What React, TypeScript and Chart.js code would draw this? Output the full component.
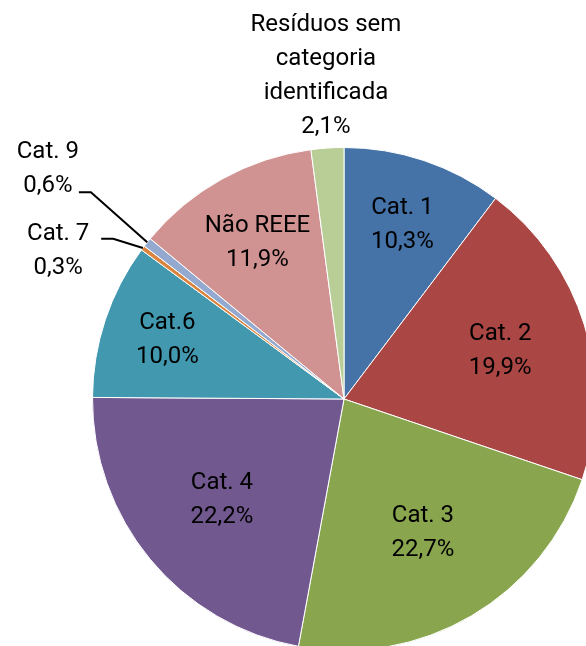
import React, { useEffect, useRef } from "react";
import { Chart, registerables } from "chart.js";

Chart.register(...registerables);

const categories = [
  "Cat. 1",
  "Cat. 2",
  "Cat. 3",
  "Cat. 4",
  "Cat.6",
  "Cat. 7",
  "Cat. 9",
  "Não REEE",
  "Resíduos sem categoria identificada",
];
const values = [10.3, 19.9, 22.7, 22.2, 10.0, 0.3, 0.6, 11.9, 2.1];
const labelLines = [
  ["Cat. 1"],
  ["Cat. 2"],
  ["Cat. 3"],
  ["Cat. 4"],
  ["Cat.6"],
  ["Cat. 7"],
  ["Cat. 9"],
  ["Não REEE"],
  ["Resíduos sem", "categoria", "identificada"],
];
const colors = [
  "#4572A7",
  "#AA4643",
  "#89A54E",
  "#71588F",
  "#4198AF",
  "#DB843D",
  "#93A9CF",
  "#D19392",
  "#B9CD96",
];

// label placement: radius fraction, optional absolute angle (deg from top, clockwise), leader start offset
const placement: { r: number; angle?: number; leader?: [number, number] }[] = [
  { r: 0.73 },
  { r: 0.65 },
  { r: 0.62 },
  { r: 0.63 },
  { r: 0.74 },
  { r: 1.28, angle: 297.4, leader: [43, -12] },
  { r: 1.49, angle: 307.8, leader: [31, 23] },
  { r: 0.71 },
  { r: 1.285, angle: 356.8 },
];

const fmt = (v: number) => v.toFixed(1).replace(".", ",") + "%";

const labelPlugin = {
  id: "pieLabels",
  afterDatasetsDraw(chart: any) {
    const ctx = chart.ctx;
    const meta = chart.getDatasetMeta(0);
    ctx.save();
    ctx.font = '24px Roboto, "Open Sans", sans-serif';
    ctx.fillStyle = "#000";
    ctx.textAlign = "center";
    ctx.textBaseline = "middle";
    const lh = 34;
    meta.data.forEach((arc: any, i: number) => {
      const p = placement[i];
      const R = arc.outerRadius;
      const mid = (arc.startAngle + arc.endAngle) / 2;
      const ang = p.angle !== undefined ? (p.angle * Math.PI) / 180 - Math.PI / 2 : mid;
      const cx = arc.x + Math.cos(ang) * R * p.r;
      const cy = arc.y + Math.sin(ang) * R * p.r;
      const lines = [...labelLines[i], fmt(values[i])];
      const top = cy - ((lines.length - 1) * lh) / 2;
      lines.forEach((t, k) => ctx.fillText(t, cx, top + k * lh));
      if (p.leader) {
        const sx = cx + p.leader[0];
        const sy = cy + p.leader[1];
        const ex = arc.x + Math.cos(mid) * R;
        const ey = arc.y + Math.sin(mid) * R;
        ctx.beginPath();
        ctx.strokeStyle = "#000";
        ctx.lineWidth = 2;
        ctx.moveTo(sx, sy);
        ctx.lineTo(sx + 12, sy);
        ctx.lineTo(ex, ey);
        ctx.stroke();
      }
    });
    ctx.restore();
  },
};

export default function App() {
  const ref = useRef<HTMLCanvasElement | null>(null);
  useEffect(() => {
    if (!ref.current) return;
    const chart = new Chart(ref.current, {
      type: "pie",
      data: {
        labels: categories,
        datasets: [
          {
            data: values,
            backgroundColor: colors,
            borderColor: "#ffffff",
            borderWidth: 1,
          },
        ],
      },
      options: {
        responsive: false,
        animation: false,
        devicePixelRatio: 1,
        layout: { padding: { left: 92, right: 92, top: 147, bottom: 147 } },
        plugins: {
          legend: { display: false },
          tooltip: { enabled: false },
        },
      },
      plugins: [labelPlugin],
    });
    return () => chart.destroy();
  }, []);
  return (
    <div
      style={{
        position: "absolute",
        left: 0,
        top: 0,
        width: 586,
        height: 646,
        overflow: "hidden",
        background: "#fff",
      }}
    >
      <canvas ref={ref} width={688} height={798} style={{ display: "block", width: 688, height: 798 }} />
    </div>
  );
}
